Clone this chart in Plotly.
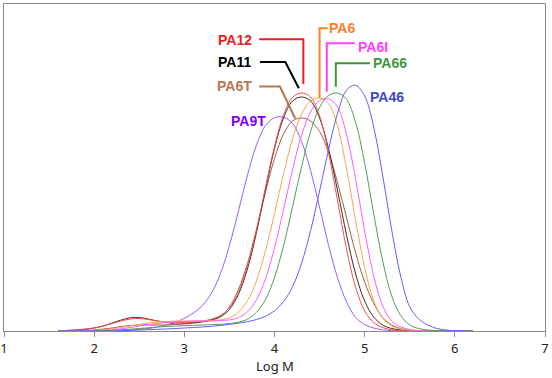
import plotly.graph_objects as go

# x grid (Log M)
log_m = [1.6, 1.7, 1.8, 1.9, 2.0, 2.1, 2.2, 2.3, 2.4, 2.5,
         2.6, 2.7, 2.8, 2.9, 3.0, 3.1, 3.2, 3.3, 3.4, 3.5,
         3.6, 3.7, 3.8, 3.9, 4.0, 4.1, 4.2, 4.3, 4.4, 4.5,
         4.6, 4.7, 4.8, 4.9, 5.0, 5.1, 5.2, 5.3, 5.4, 5.5,
         5.6, 5.7, 5.8, 5.9, 6.0, 6.1, 6.2]

pa12 = [0.2, 0.5, 1, 1.8, 3, 5, 7.5, 10, 12, 12.5,
        11.5, 10, 9, 8.5, 8.5, 9, 10, 11.8, 15.5, 23.3,
        38.6, 65, 101, 143.5, 184.5, 216, 233.5, 238, 234, 215,
        178, 130, 81.4, 43.6, 20, 8.5, 3.5, 1.2, 0.4, 0,
        0, 0, 0, 0, 0, 0, 0]
pa11 = [0.3, 0.6, 1, 1.8, 3, 5, 8, 11, 13.2, 13.5,
        12, 10, 8.5, 8, 8, 8.5, 9.4, 11, 14.2, 21.5,
        36.7, 62, 98.5, 141.5, 182.5, 213, 230, 234, 230, 213,
        182, 140, 95.5, 57, 30, 14, 6, 2.5, 1, 0.3,
        0, 0, 0, 0, 0, 0, 0]
pa6t = [0, 0.1, 0.3, 0.6, 1, 2, 3, 4.5, 5.5, 6,
        6, 6, 6, 6.5, 7, 7.8, 9, 11, 15, 24,
        41.5, 67.5, 101.5, 139, 172.5, 197, 210, 213, 210, 199.5,
        178.5, 148, 113, 78, 49, 27.7, 13.5, 6, 2.4, 0.8,
        0.2, 0, 0, 0, 0, 0, 0]
pa6 = [0, 0, 0.1, 0.3, 0.7, 1.3, 2.3, 3.5, 5, 6.5,
       8, 9, 9.5, 10, 10, 10, 10, 10.5, 11.2, 13.2,
       18.8, 30.2, 50.3, 80.3, 117.5, 157, 192, 216.7, 230, 233,
       227.4, 204.6, 162, 110.7, 63.4, 30.3, 13, 5, 2, 0.7,
       0.2, 0, 0, 0, 0, 0, 0]
pa6i = [0, 0, 0, 0.1, 0.3, 0.7, 1.3, 2.2, 3.5, 5,
        6.5, 7.5, 8.5, 9, 9.5, 10, 10, 10, 10.5, 11.1,
        13.3, 19.3, 31.2, 52.2, 83.2, 121.5, 161.2, 195.8, 219, 230.4,
        232, 224, 196, 151.7, 100, 55.2, 25, 10, 4, 1.5,
        0.5, 0.1, 0, 0, 0, 0, 0]
pa66 = [0, 0, 0, 0, 0, 0.3, 0.7, 1.2, 1.8, 2.5,
        3.2, 4, 4.5, 5, 5.3, 5.6, 6, 6.3, 6.6, 7.5,
        8.8, 11.7, 18.7, 31.4, 53.5, 85.2, 124.2, 164.2, 199.4, 223.7,
        235.6, 238, 231.6, 208.5, 168, 117.3, 70, 35, 15.5, 6,
        2.5, 1, 0.3, 0, 0, 0, 0]
pa46 = [0, 0, 0, 0, 0, 0, 0, 0.3, 0.6, 1,
        1.3, 1.7, 2, 2.5, 3, 3.5, 4, 4.7, 5.5, 6.6,
        7.8, 9.3, 11.5, 14.7, 20.2, 29.4, 44.3, 67.8, 100.3, 140,
        181.5, 218, 241, 245.7, 235, 204, 155.3, 100.8, 54.6, 24.2,
        12, 6, 2.5, 1, 0.3, 0, 0]
pa9t = [0, 0, 0, 0, 0, 0, 0.2, 0.5, 1, 1.5,
        2.5, 4, 6, 8.5, 12.7, 18, 25.5, 37.7, 57.3, 85.5,
        120, 155.8, 186, 205.4, 213.3, 213.8, 207.6, 189.6, 160.5, 123.7,
        85.6, 53, 28.9, 13.6, 6.5, 3, 1.2, 0.4, 0.1, 0,
        0, 0, 0, 0, 0, 0, 0]

tick_vals = [1, 2, 3, 4, 5, 6, 7]

names = ["PA9T", "PA6T", "PA11", "PA12", "PA6", "PA6I", "PA66", "PA46"]
series = [pa9t, pa6t, pa11, pa12, pa6, pa6i, pa66, pa46]
line_colors = ["#9a5cff", "#a0623c", "#303030", "#ff4a4a", "#ffa050", "#ff5cff", "#4f9f4f", "#5f5fff"]
label_colors = {"PA12": "#ee1c25", "PA11": "#000000", "PA6T": "#b5774f", "PA9T": "#8000ff",
                "PA6": "#ff7f27", "PA6I": "#ff40ff", "PA66": "#3f953f", "PA46": "#3f48cc"}

# label positions (Log M, height) and leader polylines
label_pos = {"PA12": (3.56, 291), "PA11": (3.56, 269), "PA6T": (3.56, 245), "PA9T": (3.71, 210),
             "PA6": (4.75, 303), "PA6I": (5.09, 284), "PA66": (5.28, 268), "PA46": (5.25, 234)}
leaders = {
    "PA12": ([3.83, 4.32, 4.32], [291.7, 291.7, 247]),
    "PA11": ([3.84, 4.12, 4.27], [269, 269, 242.7]),
    "PA6T": ([3.83, 4.06, 4.23], [244.5, 244.5, 212.5]),
    "PA6": ([4.59, 4.50, 4.50], [302.7, 302.7, 233]),
    "PA6I": ([4.89, 4.58, 4.58], [287.7, 287.7, 239.3]),
    "PA66": ([5.06, 4.68, 4.68], [267.7, 267.7, 244.3]),
}

fig = go.Figure()
for nm, ys, c in zip(names, series, line_colors):
    fig.add_trace(go.Scatter(x=log_m, y=ys, mode="lines", name=nm,
                             line=dict(color=c, width=1, shape="spline", smoothing=1),
                             hoverinfo="skip", showlegend=False))

for nm, (lx, ly) in leaders.items():
    fig.add_trace(go.Scatter(x=lx, y=ly, mode="lines",
                             line=dict(color=label_colors[nm], width=2),
                             hoverinfo="skip", showlegend=False))

for nm, (tx, ty) in label_pos.items():
    fig.add_annotation(x=tx, y=ty, text="<b>%s</b>" % nm, showarrow=False,
                       xanchor="center", yanchor="middle",
                       font=dict(family="Liberation Sans, Arial, sans-serif", size=14,
                                 color=label_colors[nm]))

# axis title as annotation below the tick labels
fig.add_annotation(x=4, y=0, yref="paper", text="Log M", showarrow=False,
                   xanchor="center", yanchor="middle", yshift=-35,
                   font=dict(family="Noto Sans, DejaVu Sans, sans-serif", size=13, color="#222"))

fig.update_layout(
    width=552, height=378,
    margin=dict(l=4, r=7, t=4, b=47, autoexpand=False),
    paper_bgcolor="white", plot_bgcolor="white",
    font=dict(family="Noto Sans, DejaVu Sans, sans-serif", color="#222"),
    hovermode=False,
)
fig.update_xaxes(range=[1, 7], tickvals=tick_vals, automargin=False,
                 showgrid=False, zeroline=False,
                 showline=True, linecolor="#8a8a8a", linewidth=1, mirror=True,
                 ticks="outside", ticklen=5, tickcolor="#8a8a8a",
                 tickfont=dict(size=13, color="#222"))
fig.update_yaxes(range=[0, 327], showgrid=False, zeroline=False, showticklabels=False,
                 automargin=False,
                 showline=True, linecolor="#8a8a8a", linewidth=1, mirror=True, ticks="")

fig.write_html("out.html", config={"displayModeBar": False},
               post_script="document.body.style.margin='0';")
